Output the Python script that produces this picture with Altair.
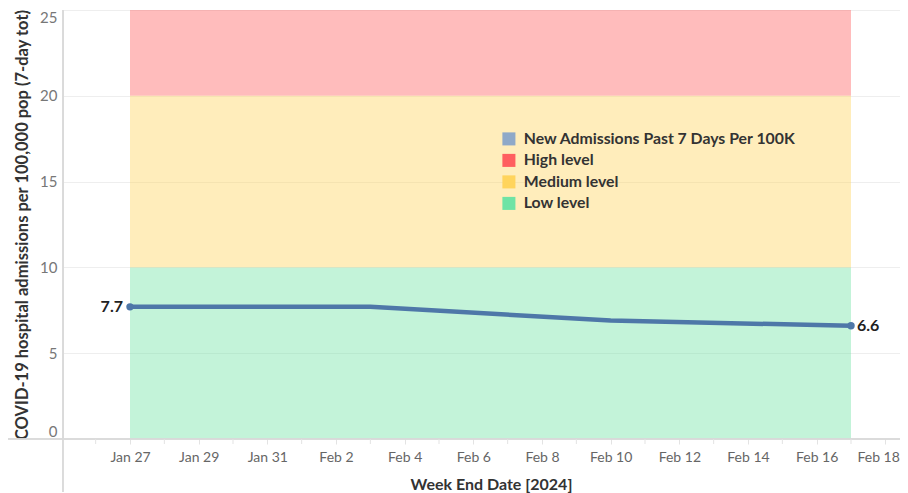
import altair as alt
import pandas as pd

# ---- data ----
week_end = ["2024-01-27", "2024-02-03", "2024-02-10", "2024-02-17"]
admissions = [7.7, 7.7, 6.9, 6.6]

levels = ["High level", "Medium level", "Low level"]
level_low = [20, 10, 0]
level_high = [25, 20, 10]
band_start = "2024-01-27"
band_end = "2024-02-17"

legend_names = ["New Admissions Past 7 Days Per 100K", "High level", "Medium level", "Low level"]
legend_colors = ["#8fa9c8", "#ff5f5f", "#ffd45c", "#6fe3a5"]

label_days = ["2024-01-27", "2024-01-29", "2024-01-31", "2024-02-02", "2024-02-04", "2024-02-06",
              "2024-02-08", "2024-02-10", "2024-02-12", "2024-02-14", "2024-02-16", "2024-02-18"]
minor_days = ["2024-01-26", "2024-01-28", "2024-01-30", "2024-02-01", "2024-02-03", "2024-02-05",
              "2024-02-07", "2024-02-09", "2024-02-11", "2024-02-13", "2024-02-15", "2024-02-17"]
domain_days = ["2024-01-25T01:10:00", "2024-02-18T10:15:00"]


def ms(s):
    return int(pd.Timestamp(s, tz="UTC").value // 10**6)


line_df = pd.DataFrame({"date": [ms(d) for d in week_end], "value": admissions})
band_df = pd.DataFrame({"level": levels, "low": level_low, "high": level_high,
                        "start": [ms(band_start)] * 3, "end": [ms(band_end)] * 3})
minor_df = pd.DataFrame({"date": [ms(d) for d in minor_days]})
end_df = line_df.iloc[[0, len(line_df) - 1]].copy()
end_df["side"] = ["left", "right"]

FONT = "Lato"
W, H = 837, 429

x_scale = alt.Scale(domain=[ms(d) for d in domain_days], nice=False)
y_scale = alt.Scale(domain=[0, 25], nice=False)

x_axis = alt.Axis(
    title="Week End Date [2024]",
    values=[ms(d) for d in label_days],
    format="%b %-d",
    labelFont=FONT, labelFontSize=14, labelColor="#666666", labelPadding=6,
    tickSize=5, tickColor="#e3e3e3", domain=False, grid=False,
    titleFont=FONT, titleFontSize=16, titleFontWeight="bold", titleColor="#333333",
    titlePadding=12, titleX=428, labelFlush=20, labelFlushOffset=14, labelOverlap=False,
)
y_axis = alt.Axis(
    title="COVID-19 hospital admissions per 100,000 pop (7-day tot)",
    values=[0, 5, 10, 15, 20, 25],
    labelFont=FONT, labelFontSize=15, labelColor="#777777", labelPadding=6,
    ticks=False, domain=False, grid=True, gridColor="#eeeeee",
    labelFlush=True, labelFlushOffset=0,
    titleFont=FONT, titleFontSize=16.5, titleFontWeight="bold", titleColor="#333333",
    titlePadding=9,
)

color_scale = alt.Scale(domain=legend_names, range=legend_colors)

bands = alt.Chart(band_df).mark_rect(opacity=0.42).encode(
    x=alt.X("start:T", scale=x_scale, axis=x_axis),
    x2="end:T",
    y=alt.Y("low:Q", scale=y_scale, axis=y_axis),
    y2="high:Q",
    color=alt.Color("level:N", scale=color_scale,
                    legend=alt.Legend(title=None, orient="none", legendX=438, legendY=121,
                                      symbolType="square", symbolSize=170, symbolOpacity=1,
                                      symbolStrokeWidth=0, labelFont=FONT, labelFontSize=15.8,
                                      labelFontWeight="bold", labelColor="#333333",
                                      labelLimit=400, rowPadding=4.5, labelOffset=7)),
)

minor_ticks = alt.Chart(minor_df).mark_rule(color="#e3e3e3", strokeWidth=1, clip=False).encode(
    x=alt.X("date:T", scale=x_scale), y=alt.value(H), y2=alt.value(H + 5))

line = alt.Chart(line_df).mark_line(color="#4e77a8", strokeWidth=4.5).encode(
    x=alt.X("date:T", scale=x_scale),
    y=alt.Y("value:Q", scale=y_scale),
)

dots = alt.Chart(end_df).mark_circle(color="#4e77a8", size=55, opacity=1).encode(
    x=alt.X("date:T", scale=x_scale),
    y=alt.Y("value:Q", scale=y_scale),
)

lab_left = alt.Chart(end_df[end_df.side == "left"]).mark_text(
    align="right", dx=-7, font=FONT, fontSize=16, fontWeight="bold", color="#222222"
).encode(x=alt.X("date:T", scale=x_scale), y=alt.Y("value:Q", scale=y_scale),
         text=alt.Text("value:Q", format=".1f"))

lab_right = alt.Chart(end_df[end_df.side == "right"]).mark_text(
    align="left", dx=6, font=FONT, fontSize=16, fontWeight="bold", color="#222222"
).encode(x=alt.X("date:T", scale=x_scale), y=alt.Y("value:Q", scale=y_scale),
         text=alt.Text("value:Q", format=".1f"))

# pane border lines extending outside the plot
hline = alt.Chart(line_df).mark_rule(color="#d9d9d9", strokeWidth=1, clip=False).encode(
    x=alt.value(-56), x2=alt.value(W), y=alt.value(H))
vline = alt.Chart(line_df).mark_rule(color="#d9d9d9", strokeWidth=1, clip=False).encode(
    x=alt.value(0), y=alt.value(0), y2=alt.value(H + 53))

chart = alt.layer(bands, hline, vline, minor_ticks, line, dots, lab_left, lab_right).properties(
    width=W, height=H,
    autosize=alt.AutoSizeParams(type="none"),
    padding={"left": 55, "top": 2, "right": 0, "bottom": 55},
).configure_view(stroke=None).configure(background="white")

chart.save("out.html", embed_options={"renderer": "svg", "actions": False})
